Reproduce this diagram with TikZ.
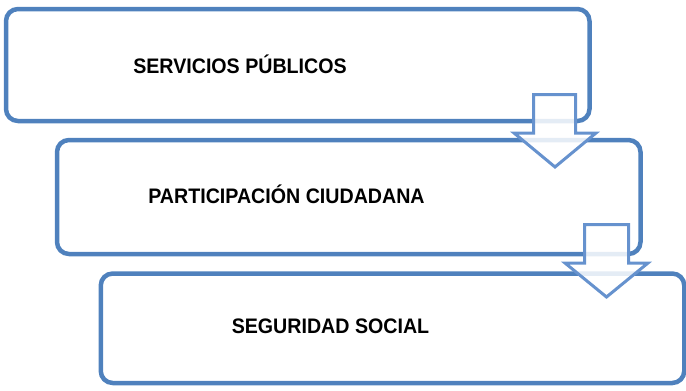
\documentclass[tikz,border=0pt]{standalone}
\usepackage{fontspec}
\setmainfont{Liberation Sans}
\usepackage{tikz}
\usetikzlibrary{positioning,shapes,calc}

\definecolor{boxblue}{RGB}{79,129,189}
\definecolor{arrowblue}{RGB}{102,146,206}
\tikzset{
    caja/.style={draw=boxblue, line width=4.5pt, rounded corners=12pt,
        minimum width=583.5pt, inner sep=0pt},
    rotulo/.style={font=\fontsize{21}{25}\selectfont\bfseries, xscale=0.935, inner sep=0pt, anchor=base},
    flecha/.style={draw=arrowblue, line width=3pt, fill=white, fill opacity=0.85, line join=miter}
}

\begin{document}
\begin{tikzpicture}[x=1pt,y=-1pt]
    \useasboundingbox (0,0) rectangle (686,391);

    \node[caja, minimum height=112pt] at (297.75,65) (serv) {};
    \node[caja, minimum height=114pt] at (348.75,197) (part) {};
    \node[caja, minimum height=109.5pt] at (392.5,328.25) (segu) {};

    \node[rotulo] at (240,73) (tserv) {SERVICIOS PÚBLICOS};
    \node[rotulo] at (286.5,203) (tpart) {PARTICIPACIÓN CIUDADANA};
    \node[rotulo] at (330.5,333) (tsegu) {SEGURIDAD SOCIAL};

    % block arrows between the boxes
    \draw[flecha] (533.5,94.5) -- (575.5,94.5) -- (575.5,133) -- (596,133)
        -- (555,167) -- (514,133) -- (533.5,133) -- cycle;
    \draw[flecha] (584.5,224.5) -- (628.5,224.5) -- (628.5,263) -- (648,263)
        -- (606.5,297) -- (565,263) -- (584.5,263) -- cycle;
\end{tikzpicture}
\end{document}
